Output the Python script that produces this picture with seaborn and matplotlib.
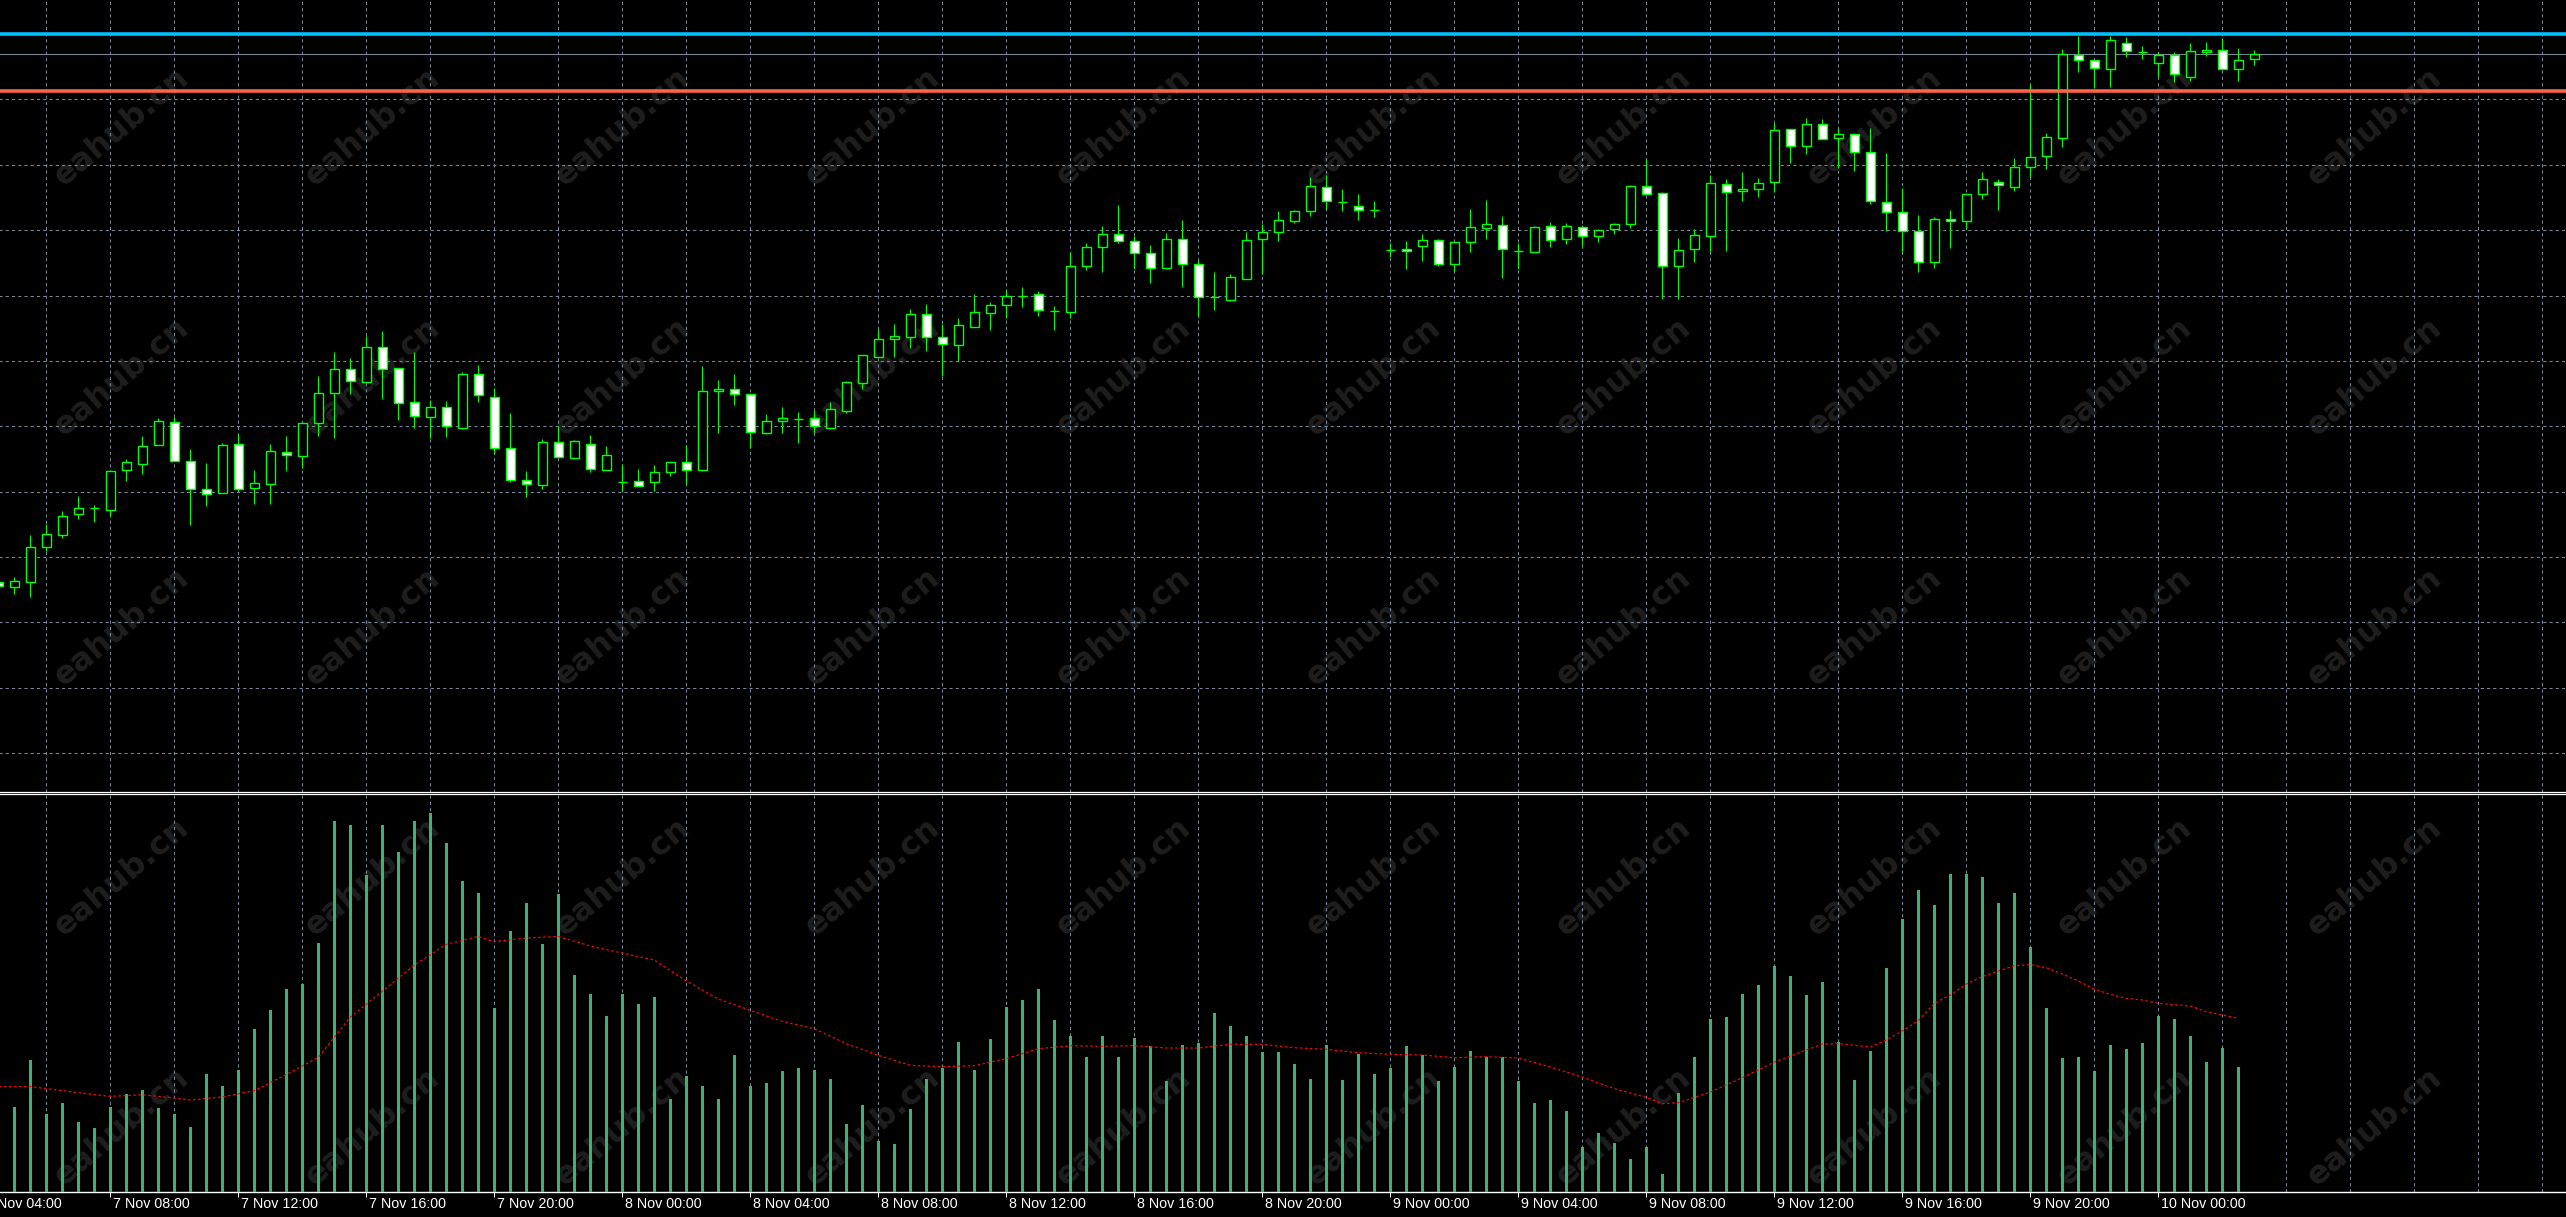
import numpy as np
import pandas as pd
import matplotlib
matplotlib.use("Agg")
import matplotlib.pyplot as plt
from matplotlib.transforms import ScaledTranslation
import seaborn as sns

# 30 minute candles, first one (half hidden at the left edge) opens 7 Nov 04:30
first_bar = "2023-11-07 04:30"
opens = [
    1920.92, 1920.67, 1920.92, 1922.64, 1923.27, 1924.29, 1924.59, 1924.52, 1926.49, 1926.82,
    1927.74, 1928.89, 1926.94, 1925.54, 1925.34, 1927.79, 1925.62, 1925.82, 1927.39, 1927.22,
    1928.87, 1930.34, 1931.54, 1930.89, 1932.64, 1931.59, 1929.89, 1929.17, 1929.64, 1928.62,
    1931.29, 1930.17, 1927.59, 1925.99, 1925.74, 1927.89, 1927.12, 1927.79, 1926.49, 1925.90,
    1925.97, 1925.89, 1926.42, 1926.92, 1926.52, 1930.44, 1930.57, 1930.29, 1928.37, 1928.94,
    1929.05, 1929.09, 1928.62, 1929.47, 1930.87, 1932.17, 1933.07, 1933.14, 1934.29, 1933.14,
    1932.74, 1933.67, 1934.37, 1934.74, 1935.22, 1935.29, 1934.44, 1934.42, 1936.72, 1937.67,
    1938.29, 1937.94, 1937.34, 1936.62, 1938.04, 1936.79, 1935.17, 1935.02, 1936.07, 1938.04,
    1938.42, 1938.97, 1939.44, 1940.64, 1939.92, 1939.72, 1939.52, 1937.50, 1937.57, 1937.69,
    1937.99, 1936.79, 1937.89, 1938.59, 1938.74, 1937.47, 1937.42, 1938.69, 1938.04, 1938.64,
    1938.19, 1938.54, 1938.79, 1940.72, 1940.34, 1936.69, 1937.54, 1938.19, 1940.79, 1940.44,
    1940.57, 1940.89, 1943.54, 1942.69, 1943.79, 1943.09, 1943.29, 1942.39, 1939.92, 1939.39,
    1938.44, 1936.89, 1939.04, 1938.97, 1940.29, 1940.92, 1940.67, 1941.64, 1942.19, 1943.09,
    1947.24, 1946.99, 1946.57, 1947.84, 1947.39, 1946.84, 1947.24, 1946.14, 1947.42, 1947.49,
    1946.54, 1947.04,
]
highs = [
    1921.05, 1921.15, 1923.25, 1923.80, 1924.45, 1925.20, 1924.75, 1926.50, 1927.05, 1928.20,
    1929.10, 1929.17, 1927.55, 1926.85, 1927.84, 1928.29, 1926.50, 1927.80, 1928.20, 1928.84,
    1931.20, 1932.40, 1932.09, 1933.20, 1933.45, 1931.59, 1932.40, 1930.00, 1929.95, 1931.39,
    1931.75, 1930.59, 1929.34, 1926.45, 1928.05, 1928.70, 1928.00, 1928.25, 1927.70, 1926.80,
    1926.54, 1926.74, 1926.92, 1927.74, 1931.70, 1931.00, 1931.30, 1930.29, 1929.30, 1929.64,
    1929.40, 1929.50, 1929.90, 1930.94, 1932.24, 1933.57, 1933.80, 1934.55, 1934.79, 1933.80,
    1934.10, 1935.30, 1934.90, 1935.50, 1935.64, 1935.45, 1934.69, 1937.40, 1937.87, 1938.70,
    1939.75, 1938.22, 1937.74, 1938.37, 1938.99, 1936.99, 1936.40, 1936.30, 1938.42, 1938.79,
    1939.45, 1939.50, 1941.14, 1941.24, 1940.54, 1940.29, 1939.94, 1937.87, 1937.95, 1938.29,
    1938.04, 1937.89, 1939.55, 1940.00, 1939.20, 1937.84, 1938.69, 1938.90, 1938.85, 1938.77,
    1938.57, 1938.84, 1940.77, 1942.04, 1940.40, 1938.10, 1938.55, 1941.24, 1941.04, 1941.39,
    1941.09, 1943.84, 1943.54, 1944.09, 1944.04, 1943.59, 1943.34, 1943.59, 1942.34, 1940.59,
    1939.25, 1939.14, 1939.50, 1940.29, 1941.40, 1941.04, 1942.10, 1945.80, 1943.35, 1947.54,
    1948.20, 1946.99, 1948.22, 1948.15, 1947.70, 1947.40, 1947.39, 1947.84, 1947.90, 1948.09,
    1947.59, 1947.50,
]
lows = [
    1920.60, 1920.32, 1920.17, 1922.47, 1923.12, 1924.07, 1923.92, 1924.20, 1925.95, 1926.32,
    1927.74, 1926.94, 1923.77, 1924.72, 1925.34, 1925.47, 1924.82, 1924.82, 1926.45, 1926.62,
    1928.20, 1928.12, 1930.30, 1930.89, 1930.05, 1929.02, 1928.62, 1928.12, 1928.17, 1928.57,
    1929.92, 1927.30, 1925.90, 1925.17, 1925.57, 1927.14, 1927.07, 1926.42, 1926.49, 1925.47,
    1925.68, 1925.47, 1926.22, 1925.80, 1926.47, 1928.37, 1929.77, 1927.59, 1928.32, 1928.37,
    1927.84, 1928.37, 1928.57, 1929.37, 1930.57, 1932.17, 1932.17, 1932.62, 1932.47, 1931.22,
    1931.95, 1933.67, 1933.50, 1934.10, 1934.65, 1934.20, 1933.50, 1934.10, 1936.50, 1936.42,
    1937.87, 1936.57, 1935.87, 1936.57, 1935.65, 1934.17, 1934.52, 1934.97, 1936.04, 1936.29,
    1937.97, 1938.87, 1939.22, 1939.54, 1939.47, 1939.02, 1939.17, 1937.17, 1936.55, 1936.95,
    1936.72, 1936.47, 1937.42, 1938.07, 1936.12, 1936.57, 1937.42, 1937.67, 1937.82, 1937.70,
    1937.92, 1938.32, 1938.59, 1940.29, 1935.04, 1935.04, 1936.92, 1937.42, 1937.47, 1939.97,
    1940.17, 1940.42, 1941.84, 1942.32, 1943.04, 1941.59, 1941.47, 1939.79, 1938.45, 1937.42,
    1936.42, 1936.62, 1937.62, 1938.55, 1940.05, 1939.52, 1940.45, 1941.17, 1941.55, 1942.67,
    1946.42, 1945.59, 1945.67, 1947.17, 1947.07, 1946.17, 1945.92, 1945.97, 1947.22, 1946.50,
    1945.97, 1946.77,
]
closes = [
    1920.70, 1920.97, 1922.64, 1923.29, 1924.22, 1924.59, 1924.59, 1926.44, 1926.89, 1927.69,
    1928.94, 1926.94, 1925.54, 1925.29, 1927.74, 1925.57, 1925.84, 1927.44, 1927.24, 1928.84,
    1930.34, 1931.54, 1930.94, 1932.64, 1931.54, 1929.84, 1929.19, 1929.64, 1928.72, 1931.29,
    1930.24, 1927.59, 1925.99, 1925.79, 1927.89, 1927.14, 1927.94, 1926.54, 1927.24, 1925.90,
    1925.70, 1926.39, 1926.92, 1926.49, 1930.44, 1930.54, 1930.29, 1928.39, 1928.94, 1929.09,
    1929.05, 1928.70, 1929.54, 1930.89, 1932.24, 1933.04, 1933.20, 1934.29, 1933.14, 1932.79,
    1933.74, 1934.39, 1934.74, 1935.19, 1935.22, 1934.52, 1934.44, 1936.69, 1937.64, 1938.29,
    1937.97, 1937.34, 1936.62, 1938.04, 1936.79, 1935.17, 1935.17, 1936.14, 1937.99, 1938.39,
    1938.99, 1939.44, 1940.69, 1939.94, 1939.92, 1939.49, 1939.52, 1937.50, 1937.44, 1937.99,
    1936.82, 1937.89, 1938.64, 1938.79, 1937.54, 1937.47, 1938.64, 1937.99, 1938.69, 1938.19,
    1938.49, 1938.79, 1940.69, 1940.29, 1936.69, 1937.49, 1938.24, 1940.84, 1940.39, 1940.54,
    1940.84, 1943.49, 1942.69, 1943.79, 1943.04, 1943.29, 1942.39, 1939.94, 1939.39, 1938.44,
    1936.89, 1939.04, 1938.94, 1940.29, 1941.04, 1940.74, 1941.64, 1942.14, 1943.14, 1947.29,
    1946.99, 1946.59, 1947.99, 1947.44, 1947.39, 1947.24, 1946.29, 1947.44, 1947.50, 1946.57,
    1946.99, 1947.29,
]

# tick volume, first visible bar is 7 Nov 05:00 (the forming bar has none yet)
vol_first_bar = "2023-11-07 05:00"
volumes = [
    850, 1320, 780, 890, 700, 640, 850, 980, 1020, 840,
    780, 650, 1180, 1060, 1220, 1630, 1820, 2030, 2080, 2490,
    3710, 3670, 3170, 3670, 3400, 3710, 3790, 3490, 3110, 2990,
    1840, 2610, 2890, 2480, 2980, 2170, 1980, 1760, 1980, 1880,
    1950, 930, 1160, 1060, 930, 1370, 1060, 1090, 1210, 1240,
    1220, 1130, 680, 870, 510, 480, 830, 1130, 1240, 1500,
    1220, 1530, 1850, 1920, 2030, 1720, 1560, 1350, 1560, 1350,
    1540, 1460, 1110, 1470, 1490, 1790, 1660, 1560, 1400, 1400,
    1280, 1130, 1470, 1120, 1380, 1180, 1240, 1460, 1370, 1110,
    1250, 1410, 1350, 1350, 1110, 890, 920, 810, 450, 590,
    490, 330, 450, 180, 990, 1350, 1730, 1750, 1980, 2070,
    2260, 2160, 1970, 2100, 1500, 1120, 1410, 2240, 2730, 3020,
    2870, 3180, 3180, 3150, 2890, 2990, 2450, 1840, 1340, 1350,
    1210, 1470, 1430, 1490, 1760, 1730, 1560, 1300, 1440, 1250,
]

# moving average of the volume (bar number from 7 Nov 05:00)
ma_bars = [-1, 1, 2, 4, 6, 8, 10, 11, 13, 15,
           17, 19, 21, 23, 25, 27, 29, 30, 32, 34,
           36, 38, 40, 42, 44, 46, 48, 50, 52, 54,
           56, 58, 60, 62, 64, 66, 68, 70, 72, 74,
           76, 78, 80, 82, 84, 86, 88, 90, 92, 94,
           96, 98, 100, 102, 103, 104, 106, 108, 110, 112,
           113, 114, 116, 117, 118, 119, 120, 121, 122, 123,
           124, 125, 126, 127, 128, 129, 130, 131, 132, 133, 134, 135, 136, 137, 138, 139]
ma_values = [1055, 1055, 1034, 993, 956, 972, 940, 920, 951, 1014,
             1175, 1347, 1748, 2008, 2269, 2477, 2555, 2503, 2540, 2555,
             2460, 2389, 2320, 2110, 1930, 1816, 1706, 1633, 1483, 1367,
             1267, 1253, 1263, 1333, 1433, 1463, 1457, 1463, 1440, 1440,
             1477, 1477, 1443, 1427, 1393, 1377, 1370, 1343, 1353, 1340,
             1250, 1150, 1033, 947, 883, 893, 1000, 1143, 1300, 1420,
             1480, 1483, 1450, 1520, 1610, 1713, 1887, 1970, 2080, 2153,
             2210, 2263, 2273, 2243, 2180, 2110, 2027, 1977, 1937, 1920, 1887, 1873, 1860, 1803, 1770, 1737]

# horizontal lines on the chart
blue_level = 1948.30
bid_level = 1947.30
red_level = 1945.46

GREEN = "#00FF00"
GRID = "#778899"
W, H, DPI = 2566, 1217, 100

sns.set_theme(style="dark", rc={"figure.facecolor": "black", "axes.facecolor": "none",
                                "savefig.facecolor": "black", "axes.grid": False})
plt.rcParams["font.family"] = ["Liberation Sans", "DejaVu Sans"]

fig = plt.figure(figsize=(W / DPI, H / DPI), dpi=DPI)


def px_axes(left, top, right, bottom):
    return fig.add_axes([left / W, 1 - bottom / H, (right - left) / W, (bottom - top) / H])


ax = px_axes(-40, 0, 2570, 791.7)
axv = px_axes(-40, 793.7, 2570, 1192)

# bar number: 0 = 7 Nov 05:00, one step per 30 minutes
t0 = pd.Timestamp("2023-11-07 05:00")
step = pd.Timedelta("30min")
bar_x = ((pd.date_range(first_bar, periods=len(opens), freq="30min") - t0) / step).to_numpy()
vol_x = ((pd.date_range(vol_first_bar, periods=len(volumes), freq="30min") - t0) / step).to_numpy()

o = np.array(opens)
h = np.array(highs)
l = np.array(lows)
c = np.array(closes)
bull = c >= o

# candles
ax.vlines(bar_x, l, h, color=GREEN, lw=0.8, zorder=3)
ax.bar(bar_x, np.abs(c - o), bottom=np.minimum(o, c), width=0.58,
       color=np.where(bull, "black", "white"), edgecolor=GREEN, linewidth=1.0, zorder=4)

ax.axhline(blue_level, color="#00BFFF", lw=2.6, zorder=5)
ax.axhline(red_level, color="#FF6347", lw=2.6, zorder=5)
ax.axhline(bid_level, color=GRID, lw=0.8, zorder=2.5)

# volume + its average
axv.bar(vol_x, volumes, width=0.19, color="#3CB371", linewidth=0, zorder=3)
sns.lineplot(x=ma_bars, y=ma_values, ax=axv, color="red", lw=0.9, zorder=4)
axv.lines[-1].set_linestyle((0, (2, 2)))

xmin, xmax = (-40 - 14.3) / 16, (2570 - 14.3) / 16
for a in (ax, axv):
    a.set_xlim(xmin, xmax)
    a.xaxis.remove_overlapping_locs = False
    for s in a.spines.values():
        s.set_visible(False)
    a.set_yticks([])
    a.set_ylabel("")
    a.set_xlabel("")

ax.set_ylim(1950 - 791.7 / 20, 1950)
axv.set_ylim(0, 3983)

# grid: a vertical line every 2 hours, horizontal grid only in the price window
grid_times = pd.date_range("2023-11-07 04:00", "2023-11-10 12:00", freq="2h")
grid_x = ((grid_times - t0) / step).to_numpy()
price_grid = 1945.025 - 3.2675 * np.arange(11)
for a in (ax, axv):
    a.set_xticks(grid_x, minor=True)
    a.grid(which="minor", axis="x", color=GRID, lw=0.75, linestyle=(0, (3, 3)), zorder=1)
    a.tick_params(which="minor", length=0)
ax.set_yticks(price_grid, minor=True)
ax.grid(which="minor", axis="y", color=GRID, lw=0.75, linestyle=(0, (3, 3)), zorder=1)
ax.tick_params(which="minor", length=0)
ax.set_xticks([])

# time labels every 4 hours, left aligned at the tick
label_times = pd.date_range("2023-11-07 04:00", "2023-11-10 00:00", freq="4h")
axv.set_xticks(((label_times - t0) / step).to_numpy())
axv.set_xticklabels([f"{t.day} {t:%b %H:%M}" for t in label_times])
axv.tick_params(axis="x", which="major", direction="out", length=3.6, width=0.75,
                color="white", labelcolor="white", labelsize=10.3, pad=0.2, bottom=True)
shift = ScaledTranslation(3 / DPI, 0, fig.dpi_scale_trans)
for lab in axv.get_xticklabels():
    lab.set_horizontalalignment("left")
    lab.set_transform(lab.get_transform() + shift)

ax.spines["bottom"].set_visible(True)
ax.spines["bottom"].set_color("white")
ax.spines["bottom"].set_linewidth(0.9)
axv.spines["top"].set_visible(True)
axv.spines["top"].set_color("white")
axv.spines["top"].set_linewidth(0.9)
axv.spines["bottom"].set_visible(True)
axv.spines["bottom"].set_color("white")
axv.spines["bottom"].set_linewidth(1.0)

# background watermark
for wx in 122 + 250.3 * np.arange(10):
    for wy in 127 + 250 * np.arange(5):
        fig.text(wx / W, 1 - wy / H, "eahub.cn", rotation=40, ha="center", va="center",
                 fontsize=23, fontweight="bold", color="#1e1e1e", family="DejaVu Sans", zorder=-1)

fig.savefig("out.png", dpi=DPI, facecolor="black")
